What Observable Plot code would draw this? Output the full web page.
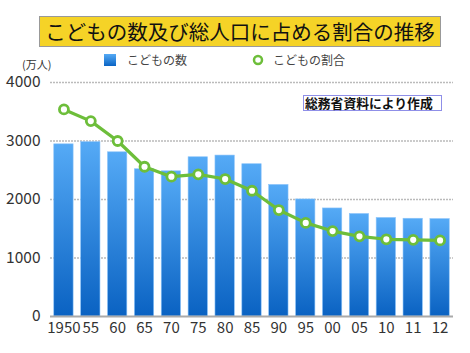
<!DOCTYPE html>
<html><head><meta charset="utf-8">
<script src="https://cdn.jsdelivr.net/npm/d3@7"></script>
<script src="https://cdn.jsdelivr.net/npm/@observablehq/plot@0.6"></script>
<style>
body{margin:0;background:#fff;font-family:"Noto Sans CJK JP","Noto Sans",sans-serif;}
#wrap{position:relative;width:470px;height:353px;overflow:hidden;}
#title{position:absolute;left:39px;top:16px;width:400px;height:29px;background:#F5D327;border:1px solid #999;box-sizing:content-box;font-size:20.5px;line-height:29px;text-align:center;color:#111;letter-spacing:0px;}
.leg{position:absolute;font-size:12px;color:#444;line-height:14px;}
#unit{position:absolute;left:22px;top:56px;font-size:11px;color:#333;}
#note{position:absolute;left:303px;top:95px;width:136px;height:14px;border:1px solid #8f8fe8;font-size:12.8px;font-weight:bold;line-height:14px;color:#111;white-space:nowrap;padding-left:1px;}
#chart{position:absolute;left:0;top:0;}
</style></head>
<body>
<div id="wrap">
<div id="chart"></div>
<div id="title">こどもの数及び総人口に占める割合の推移</div>
<div id="unit">(万人)</div>
<div class="leg" style="left:104px;top:54px;width:12px;height:12px;background:linear-gradient(#55AAF5,#0A64C4);"></div>
<div class="leg" style="left:127px;top:53px;">こどもの数</div>
<svg class="leg" style="left:251px;top:53px;" width="14" height="14"><circle cx="7" cy="7" r="4" fill="#fff" stroke="#6DBE3A" stroke-width="2.5"/></svg>
<div class="leg" style="left:273px;top:53px;">こどもの割合</div>
<div id="note">総務省資料により作成</div>
</div>
<script>
const years = ["1950","1955","1960","1965","1970","1975","1980","1985","1990","1995","2000","2005","2010","2011","2012"];
const tickLabels = ["1950","55","60","65","70","75","80","85","90","95","00","05","10","11","12"];
const children = [2943,2980,2807,2517,2482,2722,2751,2603,2249,2001,1847,1752,1684,1671,1665];
const ratio = [35.4,33.4,30.0,25.6,23.9,24.3,23.5,21.5,18.2,16.0,14.6,13.7,13.2,13.1,13.0];
const yTicks = [0,1000,2000,3000,4000];

const bars = years.map((y,i)=>({year:y, value:children[i]}));
const pts = years.map((y,i)=>({year:y, value:ratio[i]*100}));
const labelOf = new Map(years.map((y,i)=>[y,tickLabels[i]]));

const gradDefs = () => {
  const defs = d3.create("svg:defs");
  const g = defs.append("linearGradient").attr("id","barGrad").attr("x1",0).attr("y1",0).attr("x2",0).attr("y2",1);
  g.append("stop").attr("offset","0%").attr("stop-color","#55AAF6");
  g.append("stop").attr("offset","100%").attr("stop-color","#0A62C2");
  return defs.node();
};

const chart = Plot.plot({
  width:470, height:353,
  marginTop:82, marginBottom:37, marginLeft:50, marginRight:17,
  style:{fontFamily:"'Noto Sans CJK JP','Noto Sans',sans-serif", background:"transparent"},
  x:{type:"band", domain:years, round:false, paddingInner:0.28, paddingOuter:0.14, label:null, tickSize:0, tickPadding:6, tickFormat:d=>labelOf.get(d)},
  y:{domain:[0,4000], ticks:yTicks, label:null, tickSize:0, tickPadding:10, tickFormat:d=>String(d)},
  marks:[
    gradDefs,
    Plot.ruleY([1000,2000,3000,4000],{stroke:"#bbb", strokeDasharray:"2,1", strokeWidth:1.5}),
    Plot.barY(bars,{x:"year", y:"value", fill:"url(#barGrad)", stroke:"#8cc4fa", strokeWidth:0.6}),
    Plot.ruleY([0],{stroke:"#aaa", strokeWidth:2}),
    Plot.line(pts,{x:"year", y:"value", stroke:"#6DBE3A", strokeWidth:3.2}),
    Plot.dot(pts,{x:"year", y:"value", r:4.5, fill:"#fff", stroke:"#6DBE3A", strokeWidth:2.8}),
    Plot.axisX({tickSize:0, tickPadding:6, fontSize:15, fill:"#333", tickFormat:d=>labelOf.get(d), label:null}),
    Plot.axisY({ticks:yTicks, tickSize:0, tickPadding:10, fontSize:15.5, fill:"#333", label:null, tickFormat:d=>String(d)})
  ]
});
document.getElementById("chart").appendChild(chart);
</script>
</body></html>
